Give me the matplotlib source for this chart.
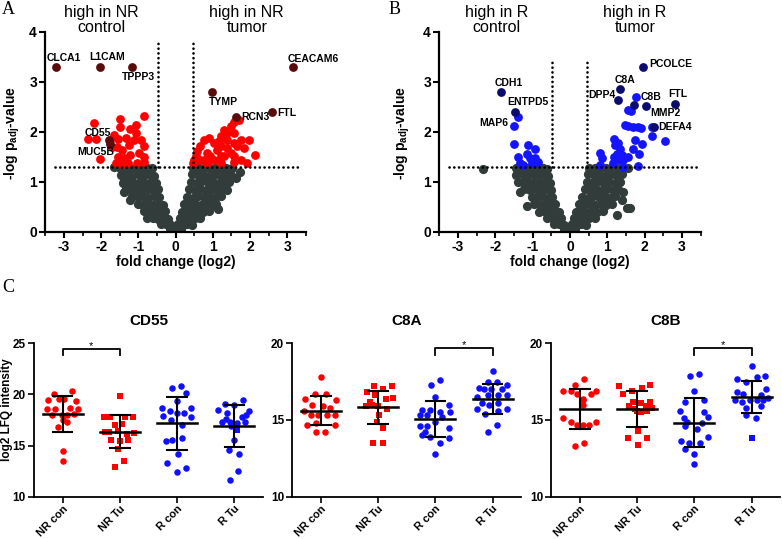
import matplotlib.pyplot as plt
from matplotlib.ticker import MultipleLocator

plt.rcParams['font.family'] = ['Liberation Sans', 'DejaVu Sans']
plt.rcParams['axes.unicode_minus'] = False
plt.rcParams['mathtext.fontset'] = 'custom'
plt.rcParams['mathtext.rm'] = 'Liberation Sans:bold'
plt.rcParams['mathtext.it'] = 'Liberation Sans:bold'
plt.rcParams['mathtext.bf'] = 'Liberation Sans:bold'

# ---------------- volcano A (NR tumor vs control) ----------------
grey_a = [
    (-1.64, 1.29), (-1.50, 1.27), (-1.36, 1.28), (-1.21, 1.27), (-1.06, 1.28), (-0.91, 1.27), (-0.76, 1.28), (-0.62, 1.27),
    (-1.46, 1.13), (-1.31, 1.15), (-1.16, 1.12), (-1.01, 1.15), (-0.86, 1.13), (-0.71, 1.15), (-0.57, 1.12),
    (-1.39, 1.03), (-1.42, 0.98), (-1.26, 1.00), (-1.11, 0.97), (-0.96, 1.00), (-0.81, 0.98), (-0.66, 1.00), (-0.53, 0.97),
    (-1.33, 0.86), (-1.19, 0.84), (-1.04, 0.86), (-0.89, 0.84), (-0.74, 0.86), (-0.60, 0.83), (-0.48, 0.86),
    (-1.39, 0.80), (-1.23, 0.63),
    (-1.16, 0.71), (-1.02, 0.69), (-0.87, 0.71), (-0.73, 0.68), (-0.59, 0.71), (-0.45, 0.69),
    (-1.02, 0.55), (-0.88, 0.54), (-0.74, 0.56), (-0.60, 0.53), (-0.46, 0.55), (-0.34, 0.54),
    (-0.84, 0.41), (-0.70, 0.40), (-0.56, 0.42), (-0.42, 0.39), (-0.28, 0.41),
    (-0.76, 0.27), (-0.61, 0.28), (-0.47, 0.26), (-0.34, 0.28), (-0.21, 0.26),
    (-0.40, 0.15), (-0.26, 0.16), (-0.13, 0.14), (-0.15, 0.05), (-0.06, 0.03),
    (0.06, 0.03), (0.15, 0.06),
    (0.07, 0.15), (0.19, 0.14), (0.32, 0.16), (0.45, 0.14),
    (0.11, 0.27), (0.24, 0.28), (0.38, 0.26), (0.52, 0.28), (0.67, 0.27),
    (1.15, 0.45),
    (0.17, 0.40), (0.30, 0.41), (0.45, 0.39), (0.60, 0.41), (0.75, 0.40), (0.89, 0.42),
    (0.24, 0.55), (0.38, 0.53), (0.53, 0.56), (0.68, 0.54), (0.83, 0.55), (0.98, 0.53), (1.10, 0.56),
    (0.31, 0.70), (0.46, 0.68), (0.61, 0.71), (0.77, 0.69), (0.92, 0.70), (1.07, 0.68), (1.22, 0.71),
    (0.37, 0.85), (0.52, 0.83), (0.67, 0.86), (0.82, 0.84), (0.97, 0.85), (1.12, 0.83), (1.27, 0.86), (1.39, 0.84),
    (0.42, 1.00), (0.57, 0.98), (0.72, 1.01), (0.87, 0.99), (1.02, 1.00), (1.17, 0.98), (1.32, 1.01), (1.45, 0.99),
    (0.45, 1.15), (0.60, 1.13), (0.75, 1.15), (0.90, 1.12), (1.05, 1.15), (1.20, 1.13), (1.35, 1.15), (1.50, 1.13),
    (0.48, 1.28), (0.62, 1.27), (0.77, 1.28), (0.92, 1.27), (1.07, 1.28), (1.22, 1.27), (1.37, 1.28), (1.52, 1.27),
    (1.73, 1.20), (1.62, 1.08),
]
red_a = [
    (-2.20, 2.17), (-2.36, 1.85), (-2.14, 1.85), (-2.02, 1.45), (-1.50, 2.25), (-1.48, 2.10), (-0.85, 2.31),
    (-1.05, 2.13), (-1.05, 1.98), (-1.21, 2.05), (-1.66, 1.93), (-1.55, 1.85), (-1.34, 1.87), (-1.57, 1.70),
    (-1.43, 1.63), (-1.24, 1.73), (-0.85, 1.71), (-0.99, 1.57), (-0.85, 1.50), (-1.21, 1.53), (-1.39, 1.47),
    (-1.55, 1.50), (-1.70, 1.70), (-1.03, 1.38), (-1.28, 1.38), (-1.43, 1.35), (-1.75, 1.83), (-1.12, 1.83),
    (-0.94, 1.83), (-1.61, 1.37), (-0.84, 1.40),
    (0.76, 1.84), (0.67, 1.71), (0.54, 1.51), (0.47, 1.37), (0.85, 1.57), (1.03, 1.77), (1.21, 1.91),
    (1.39, 1.84), (1.57, 1.97), (1.75, 1.84), (1.84, 1.67), (1.66, 1.71), (1.48, 1.57), (1.30, 1.51),
    (1.12, 1.64), (0.94, 1.51), (0.76, 1.44), (1.03, 1.44), (1.57, 1.51), (1.75, 1.44), (1.93, 1.37),
    (2.15, 1.53), (1.48, 2.11), (1.57, 2.19), (1.70, 2.24), (1.30, 2.04), (1.39, 1.97), (1.21, 1.71),
    (1.39, 1.67), (0.67, 1.44), (0.58, 1.61), (1.16, 1.81), (0.90, 1.87), (1.57, 1.77), (1.21, 1.51),
    (1.57, 1.40), (0.85, 1.37), (1.21, 1.37), (0.49, 1.44), (1.97, 1.84),
]
dark_a = [(-3.20, 3.30), (-2.03, 3.30), (-1.16, 3.30), (3.15, 3.30), (0.99, 2.79), (1.62, 2.29),
          (2.60, 2.39), (-1.80, 1.83), (-1.76, 1.76)]
names_a = ['CLCA1', 'L1CAM', 'TPPP3', 'CEACAM6', 'TYMP', 'RCN3', 'FTL', 'CD55', 'MUC5B']
name_pos_a = [(-3.00, 3.47), (-1.84, 3.49), (-0.99, 3.09), (3.70, 3.45), (1.30, 2.60), (2.15, 2.29),
              (2.98, 2.37), (-2.10, 1.98), (-2.15, 1.60)]

# ---------------- volcano B (R tumor vs control) ----------------
grey_b = [
    (-2.32, 1.25),
    (-1.45, 1.28), (-1.31, 1.27), (-1.16, 1.28), (-1.01, 1.27), (-0.86, 1.28), (-0.72, 1.27), (-0.62, 1.26),
    (-1.44, 1.13), (-1.29, 1.15), (-1.14, 1.12), (-0.99, 1.15), (-0.84, 1.13), (-0.70, 1.15), (-0.58, 1.12),
    (-1.40, 0.99), (-1.25, 1.00), (-1.10, 0.98), (-0.95, 1.00), (-0.80, 0.98), (-0.66, 1.00), (-0.54, 0.98),
    (-1.34, 0.80), (-1.22, 0.85), (-1.07, 0.84), (-0.92, 0.86), (-0.77, 0.84), (-0.63, 0.86), (-0.50, 0.84),
    (-1.02, 0.70), (-0.88, 0.69), (-0.74, 0.71), (-0.60, 0.68), (-0.47, 0.70),
    (-1.16, 0.52), (-0.95, 0.55), (-0.80, 0.54), (-0.66, 0.56), (-0.52, 0.53), (-0.39, 0.55),
    (-0.83, 0.40), (-0.69, 0.41), (-0.55, 0.39), (-0.42, 0.41), (-0.29, 0.40),
    (-0.62, 0.27), (-0.49, 0.28), (-0.36, 0.26), (-0.23, 0.28),
    (-0.42, 0.15), (-0.28, 0.16), (-0.15, 0.14), (-0.15, 0.05), (-0.05, 0.03),
    (0.05, 0.03), (0.15, 0.06),
    (0.06, 0.15), (0.18, 0.14), (0.31, 0.16), (0.44, 0.14),
    (0.10, 0.27), (0.23, 0.28), (0.37, 0.26), (0.51, 0.28), (0.66, 0.27), (1.25, 0.33),
    (0.17, 0.40), (0.30, 0.41), (0.44, 0.39), (0.58, 0.41), (0.73, 0.40), (0.88, 0.42),
    (1.52, 0.47), (1.61, 0.47),
    (0.25, 0.55), (0.39, 0.53), (0.54, 0.56), (0.68, 0.54), (0.83, 0.55), (0.98, 0.53), (1.12, 0.56),
    (0.33, 0.70), (0.48, 0.68), (0.63, 0.71), (0.78, 0.69), (0.93, 0.70), (1.08, 0.68), (1.22, 0.71), (1.39, 0.63),
    (0.40, 0.85), (0.55, 0.83), (0.70, 0.86), (0.85, 0.84), (1.00, 0.85), (1.15, 0.83), (1.30, 0.86), (1.43, 0.80),
    (0.45, 1.00), (0.60, 0.98), (0.75, 1.01), (0.90, 0.99), (1.05, 1.00), (1.20, 0.98), (1.34, 1.00),
    (0.49, 1.15), (0.64, 1.13), (0.79, 1.15), (0.94, 1.12), (1.09, 1.15), (1.24, 1.13), (1.39, 1.15),
    (0.52, 1.28), (0.66, 1.27), (0.81, 1.28), (0.96, 1.27), (1.11, 1.28), (1.26, 1.27), (1.41, 1.28), (1.56, 1.27),
]
blue_b = [
    (-1.40, 2.29), (-1.51, 2.11), (-1.49, 1.75), (-1.40, 1.49), (-1.34, 1.37), (-1.13, 1.73), (-0.94, 1.66),
    (-1.16, 1.56), (-1.07, 1.47), (-0.94, 1.47), (-0.85, 1.40), (-1.25, 1.34), (-1.02, 1.37),
    (0.80, 1.58), (0.85, 1.47), (0.80, 1.34), (1.19, 1.85), (1.21, 1.73), (1.30, 1.77), (1.34, 1.66),
    (1.25, 1.56), (1.39, 1.53), (1.19, 1.50), (1.34, 1.43), (1.16, 1.37), (1.43, 1.43), (1.57, 1.49),
    (1.47, 2.13), (1.56, 2.11), (1.70, 2.10), (1.83, 2.09), (1.90, 2.07), (1.56, 2.43), (1.65, 2.42),
    (1.76, 2.69), (2.19, 2.09), (2.19, 1.91), (2.55, 1.81), (1.70, 1.66), (1.74, 1.83), (1.92, 1.75),
    (1.86, 1.55), (1.83, 1.31), (1.42, 1.30),
]
dark_b = [(-1.85, 2.80), (-1.46, 2.40), (1.97, 3.30), (1.34, 2.86), (1.30, 2.64), (1.71, 2.54),
          (2.04, 2.51), (2.82, 2.56), (2.26, 2.09)]
names_b = ['CDH1', 'ENTPD5', 'MAP6', 'PCOLCE', 'C8A', 'DPP4', 'C8B', 'FTL', 'MMP2', 'DEFA4']
name_pos_b = [(-1.65, 2.98), (-1.13, 2.59), (-2.03, 2.17), (2.70, 3.36), (1.49, 3.04), (0.86, 2.74),
              (2.17, 2.70), (2.88, 2.76), (2.55, 2.37), (2.82, 2.09)]

# ---------------- panel C: LFQ intensities ----------------
groups = ['NR con', 'NR Tu', 'R con', 'R Tu']

cd55_vals = [
    [20.0, 20.3, 19.5, 19.6, 19.6, 19.4, 18.6, 18.6, 18.7, 18.6, 18.0, 18.0, 18.0, 18.1, 16.8, 17.3, 17.5, 14.5, 13.5],
    [19.8, 17.8, 17.8, 17.8, 17.8, 17.0, 17.1, 16.3, 16.4, 16.3, 16.2, 16.1, 15.5, 15.4, 15.5, 14.7, 13.5, 12.9],
    [20.6, 20.8, 20.1, 19.4, 18.7, 18.7, 18.4, 18.2, 18.2, 17.9, 17.5, 17.8, 17.0, 15.5, 15.7, 15.4, 14.2, 13.3, 12.8, 12.45],
    [19.5, 19.1, 19.0, 18.5, 18.2, 18.4, 17.8, 17.3, 17.3, 17.2, 17.3, 16.9, 16.5, 15.5, 14.6, 14.2, 12.5, 11.6, 18.0, 17.6],
]
cd55_offs = [
    [-0.16, 0.16, -0.26, -0.06, 0.03, 0.24, -0.28, -0.13, 0.12, 0.26, -0.18, -0.02, 0.07, 0.19, -0.08, 0.07, 0.01, 0.0, 0.0],
    [0.0, -0.27, -0.17, 0.23, 0.09, -0.09, 0.04, -0.19, -0.03, -0.26, 0.25, 0.12, -0.16, 0.0, 0.15, -0.03, 0.08, -0.09],
    [-0.09, 0.06, 0.15, 0.0, -0.27, 0.25, -0.13, -0.01, 0.12, -0.24, -0.1, 0.24, 0.08, -0.09, 0.08, -0.19, 0.02, -0.17, 0.16, -0.01],
    [0.16, -0.16, 0.0, -0.29, -0.13, 0.26, 0.13, -0.22, -0.08, 0.04, 0.19, -0.05, 0.04, 0.0, -0.1, 0.08, 0.07, -0.08, 0.2, -0.15],
]
cd55_mean = [18.09, 16.36, 17.18, 16.90]
cd55_sd = [1.76, 1.60, 2.60, 2.08]

c8a_vals = [
    [17.8, 16.4, 16.7, 16.7, 16.3, 16.0, 15.9, 15.8, 15.6, 15.3, 15.3, 15.3, 15.3, 14.7, 14.8, 14.7, 14.2, 14.2],
    [17.2, 17.0, 17.2, 16.8, 16.6, 16.4, 16.45, 16.2, 15.9, 15.9, 15.7, 15.3, 14.9, 14.5, 13.5, 13.5, 16.0],
    [17.6, 17.3, 16.5, 16.0, 15.65, 15.65, 15.5, 15.5, 15.3, 15.3, 15.2, 14.9, 14.6, 14.6, 14.5, 14.2, 14.0, 13.9, 13.85, 13.5, 12.8],
    [18.2, 17.1, 17.5, 17.5, 17.3, 17.0, 17.0, 17.0, 16.5, 16.6, 16.6, 16.6, 16.1, 16.0, 16.1, 15.7, 15.7, 15.4, 15.6, 14.7, 14.2],
]
c8a_offs = [
    [0.0, -0.28, -0.1, 0.09, 0.26, -0.15, 0.03, 0.16, -0.3, -0.18, -0.05, 0.1, 0.24, -0.25, -0.09, 0.24, -0.09, 0.07],
    [-0.08, 0.09, 0.24, -0.19, -0.06, 0.13, 0.26, -0.15, -0.22, 0.0, 0.15, 0.02, -0.02, 0.08, -0.09, 0.08, -0.1],
    [0.08, -0.08, 0.0, 0.24, -0.24, -0.1, 0.08, 0.25, -0.27, -0.14, 0.12, 0.0, -0.27, -0.15, 0.24, -0.19, -0.24, -0.1, 0.24, 0.08, 0.0],
    [0.0, -0.23, -0.08, 0.08, 0.26, -0.15, -0.02, 0.16, -0.28, -0.08, 0.1, 0.25, -0.19, -0.07, 0.1, 0.26, -0.28, -0.13, 0.1, 0.08, -0.08],
]
c8a_mean = [15.61, 15.82, 15.06, 16.37]
c8a_sd = [0.93, 1.10, 1.20, 0.98]

c8b_vals = [
    [17.7, 17.3, 16.9, 16.9, 16.7, 16.9, 16.4, 16.7, 16.3, 15.95, 15.1, 14.9, 14.7, 14.7, 14.7, 14.9, 13.5, 13.3],
    [17.2, 17.3, 17.1, 16.9, 16.7, 16.2, 16.1, 16.2, 15.9, 15.9, 15.7, 15.8, 15.5, 15.6, 15.6, 14.3, 13.8, 13.8, 13.4],
    [17.9, 18.0, 16.9, 16.2, 16.3, 15.5, 15.2, 15.1, 14.9, 14.8, 14.6, 14.4, 13.9, 13.5, 13.6, 13.5, 13.1, 12.8, 12.1, 15.6],
    [18.5, 17.7, 17.9, 17.8, 17.5, 17.0, 16.8, 16.7, 16.6, 16.45, 16.3, 16.2, 16.3, 16.3, 16.3, 15.8, 15.9, 15.1, 15.3, 13.85],
]
c8b_offs = [
    [0.07, -0.09, -0.29, -0.16, 0.19, 0.28, 0.05, -0.06, 0.06, 0.05, -0.29, -0.16, -0.06, 0.05, 0.16, 0.28, 0.07, -0.09],
    [-0.31, 0.23, 0.09, -0.09, -0.25, 0.23, 0.06, -0.07, 0.15, -0.15, -0.03, 0.26, 0.06, -0.01, 0.17, 0.01, -0.16, 0.17, 0.01],
    [-0.08, 0.08, 0.0, -0.16, 0.16, 0.17, 0.23, -0.18, -0.13, 0.13, -0.16, 0.04, 0.23, 0.1, -0.24, -0.09, -0.16, 0.0, 0.0, -0.25],
    [0.0, -0.25, 0.23, 0.09, -0.09, 0.25, -0.26, -0.15, 0.16, 0.29, -0.29, -0.17, -0.03, 0.09, 0.2, -0.09, 0.17, 0.08, -0.09, 0.0],
]
c8b_mean = [15.72, 15.72, 14.83, 16.52]
c8b_sd = [1.31, 1.20, 1.62, 1.05]

# odd square-shaped samples in circle groups: (group, index)
cd55_squares = [(3, 12)]
c8b_squares = [(3, 19)]

W, H = 782, 539
fig = plt.figure(figsize=(W / 100, H / 100), dpi=100)


def fx(px):
    return px / W


def fy(py):
    return 1 - py / H


GREY = '#323c3a'


def volcano(rect, grey, hi, hi_col, dark, dark_col, names, name_pos, vtop):
    ax = fig.add_axes(rect)
    ax.scatter([p[0] for p in grey], [p[1] for p in grey], s=44, color=GREY, lw=0, zorder=2)
    ax.scatter([p[0] for p in hi], [p[1] for p in hi], s=40, color=hi_col, lw=0, zorder=2)
    ax.scatter([p[0] for p in dark], [p[1] for p in dark], s=40, color=dark_col, lw=0, zorder=3)
    for n, (tx, ty) in zip(names, name_pos):
        ax.text(tx, ty, n, fontsize=7.5, fontweight='bold', ha='center', va='center', clip_on=False)
    dots = dict(color='black', lw=1.9, ls=(0, (0.05, 1.75)), dash_capstyle='round', zorder=4)
    ax.plot([-3.25, 3.4], [1.3, 1.3], **dots)
    ax.plot([-0.48, -0.48], [1.3, vtop], **dots)
    ax.plot([0.46, 0.46], [1.3, vtop], **dots)
    ax.set_xlim(-3.5, 3.5)
    ax.set_ylim(0, 4)
    ax.xaxis.set_major_locator(MultipleLocator(1))
    ax.xaxis.set_minor_locator(MultipleLocator(0.5))
    ax.set_yticks([0, 1, 2, 3, 4])
    for s in ['top', 'right']:
        ax.spines[s].set_visible(False)
    for s in ['left', 'bottom']:
        ax.spines[s].set_linewidth(1.6)
    ax.tick_params(which='major', length=4, width=1.5, labelsize=10, pad=2)
    ax.tick_params(which='minor', length=3, width=1.2)
    for lab in ax.get_xticklabels() + ax.get_yticklabels():
        lab.set_fontweight('bold')
    return ax


volcano([fx(45.3), fy(231.7), 260.4 / W, 200 / H], grey_a, red_a, '#ff0000', dark_a, '#5a0c0c',
        names_a, name_pos_a, 3.8)
volcano([fx(439.3), fy(231.7), 261.2 / W, 200 / H], grey_b, blue_b, '#1414ff', dark_b, '#0c0c6e',
        names_b, name_pos_b, 3.48)

for x0 in [0, 390]:
    fig.text(fx(x0 + 12), fy(133), '-log p$_{adj}$-value', rotation=90, fontsize=10,
             fontweight='bold', ha='center', va='center')
fig.text(fx(176), fy(262), 'fold change (log2)', fontsize=10, fontweight='bold', ha='center', va='center')
fig.text(fx(570), fy(262), 'fold change (log2)', fontsize=10, fontweight='bold', ha='center', va='center')

hdr = dict(fontsize=11.5, ha='center', va='center', linespacing=1.05)
fig.text(fx(101.7), fy(20), 'high in NR\ncontrol', **hdr)
fig.text(fx(246.7), fy(20), 'high in NR\ntumor', **hdr)
fig.text(fx(496.7), fy(20), 'high in R\ncontrol', **hdr)
fig.text(fx(635), fy(20), 'high in R\ntumor', **hdr)

letter = dict(fontsize=13, family='Liberation Serif', ha='left', va='center')
fig.text(fx(2), fy(10), 'A', **letter)
fig.text(fx(389), fy(10), 'B', **letter)
fig.text(fx(2), fy(288), 'C', **letter)

# ---------------- dot plots ----------------
RED, BLUE = '#ff0000', '#1010ff'


def dotplot(left, title, vals, offs, means, sds, ymax, squares, sig, sig_y):
    ax = fig.add_axes([fx(left), fy(496.7), 228.8 / W, 153.4 / H])
    for g in range(4):
        col = RED if g < 2 else BLUE
        xs = [g + o for o in offs[g]]
        mk = ['s' if g == 1 or (g, i) in squares else 'o' for i in range(len(vals[g]))]
        for m in ['o', 's']:
            px = [x for x, k in zip(xs, mk) if k == m]
            py = [v for v, k in zip(vals[g], mk) if k == m]
            ax.scatter(px, py, s=22, marker=m, color=col, lw=0, zorder=2)
        ax.plot([g - 0.35, g + 0.35], [means[g]] * 2, color='black', lw=1.8, zorder=3)
        ax.plot([g, g], [means[g] - sds[g], means[g] + sds[g]], color='black', lw=1.5, zorder=3)
        for yy in [means[g] - sds[g], means[g] + sds[g]]:
            ax.plot([g - 0.17, g + 0.17], [yy, yy], color='black', lw=1.5, zorder=3)
    a, b = sig
    tip = 0.43 if ymax == 20 else 0.6
    ax.plot([a, a, b, b], [sig_y - tip, sig_y, sig_y, sig_y - tip], color='black', lw=1.3, clip_on=False)
    ax.text((a + b) / 2, sig_y + tip * 0.45, '*', fontsize=8, ha='center', va='center')
    ax.set_xlim(-0.5, 3.5)
    ax.set_ylim(10, ymax)
    ax.set_yticks(list(range(10, ymax + 1, 5)))
    ax.set_xticks(range(4))
    ax.set_xticklabels(groups, rotation=45, ha='right', rotation_mode='anchor')
    for s in ['top', 'right']:
        ax.spines[s].set_visible(False)
    for s in ['left', 'bottom']:
        ax.spines[s].set_linewidth(1.3)
    ax.tick_params(axis='y', length=4, width=1.2, labelsize=8.5, pad=2)
    ax.tick_params(axis='x', length=4, width=1.2, labelsize=8, pad=1)
    for lab in ax.get_xticklabels() + ax.get_yticklabels():
        lab.set_fontweight('bold')
    ax.set_title(title, fontsize=11, fontweight='bold', pad=13)
    return ax


dotplot(34.1, 'CD55', cd55_vals, cd55_offs, cd55_mean, cd55_sd, 25, cd55_squares, (0, 1), 24.45)
dotplot(292.4, 'C8A', c8a_vals, c8a_offs, c8a_mean, c8a_sd, 20, [], (2, 3), 19.67)
dotplot(551.4, 'C8B', c8b_vals, c8b_offs, c8b_mean, c8b_sd, 20, c8b_squares, (2, 3), 19.67)
fig.text(fx(7), fy(410), 'log2 LFQ intensity', rotation=90, fontsize=8.5, fontweight='bold',
         ha='center', va='center')

fig.savefig('out.png', dpi=100)
